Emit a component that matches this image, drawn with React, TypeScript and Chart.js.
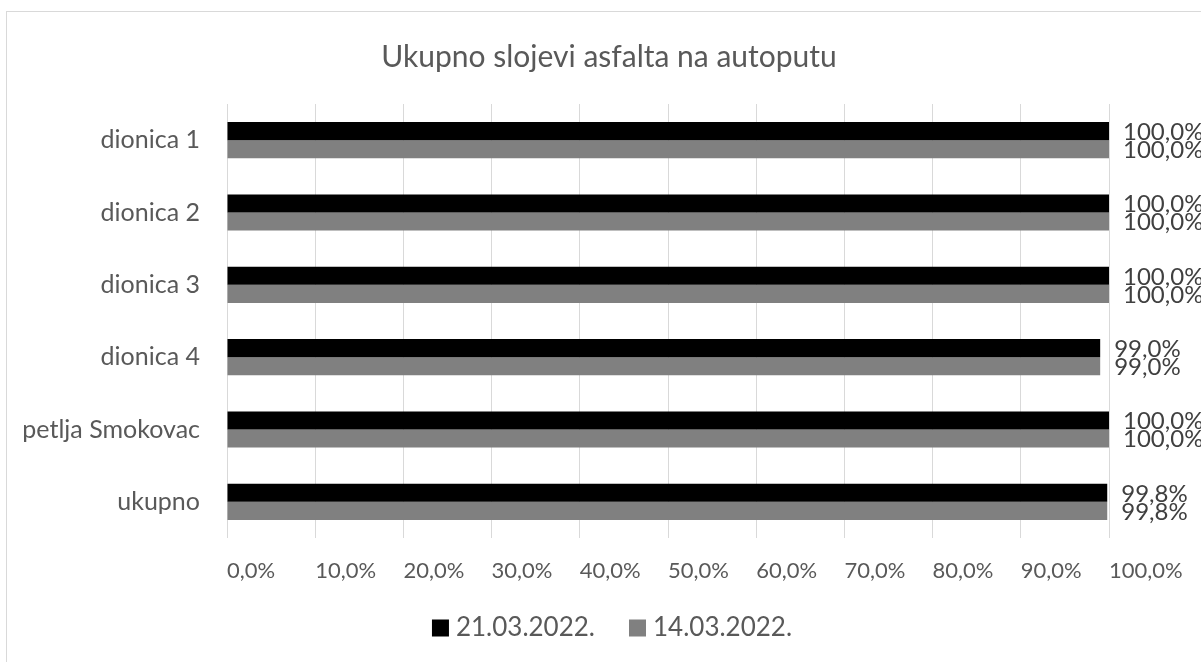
import React, { useEffect, useRef } from "react";
import { Chart, registerables } from "chart.js";

Chart.register(...registerables);

const categories = ["dionica 1", "dionica 2", "dionica 3", "dionica 4", "petlja Smokovac", "ukupno"];
const seriesNames = ["21.03.2022.", "14.03.2022."];
const series21 = [1, 1, 1, 0.99, 1, 0.998];
const series14 = [1, 1, 1, 0.99, 1, 0.998];
const seriesColors = ["#000000", "#808080"];
const titleText = "Ukupno slojevi asfalta na autoputu";
const FONT = "Lato, 'Open Sans', sans-serif";

const fmt = (v: number) => (v * 100).toFixed(1).replace(".", ",") + "%";

const overlayPlugin = {
  id: "overlay",
  afterDatasetsDraw(chart: any) {
    const ctx = chart.ctx;
    ctx.save();
    ctx.fillStyle = "#404040";
    ctx.font = `24px ${FONT}`;
    ctx.textAlign = "left";
    ctx.textBaseline = "middle";
    chart.data.datasets.forEach((ds: any, di: number) => {
      const meta = chart.getDatasetMeta(di);
      meta.data.forEach((el: any, i: number) => {
        ctx.fillText(fmt(ds.data[i]), el.x + 14, el.y + 1);
      });
    });
    ctx.restore();
  },
  afterDraw(chart: any) {
    const ctx = chart.ctx;
    ctx.save();
    // title
    ctx.fillStyle = "#595959";
    ctx.font = `30px ${FONT}`;
    ctx.textAlign = "center";
    ctx.textBaseline = "middle";
    ctx.fillText(titleText, 609, 57);
    // legend
    ctx.font = `26px ${FONT}`;
    ctx.textAlign = "left";
    const box = 17;
    const gapBox = 7;
    const gapItem = 34;
    const widths = seriesNames.map((n) => ctx.measureText(n).width);
    const total = widths.reduce((a, w) => a + box + gapBox + w, 0) + gapItem * (seriesNames.length - 1);
    let x = 612 - total / 2;
    const y = 628;
    seriesNames.forEach((n, i) => {
      ctx.fillStyle = seriesColors[i];
      ctx.fillRect(x, y - box / 2, box, box);
      x += box + gapBox;
      ctx.fillStyle = "#595959";
      ctx.fillText(n, x, y);
      x += widths[i] + gapItem;
    });
    ctx.restore();
  },
};

export default function App() {
  const ref = useRef<HTMLCanvasElement>(null);
  useEffect(() => {
    if (!ref.current) return;
    const chart = new Chart(ref.current, {
      type: "bar",
      data: {
        labels: categories,
        datasets: [
          { label: seriesNames[0], data: series21, backgroundColor: seriesColors[0], categoryPercentage: 0.5, barPercentage: 1 },
          { label: seriesNames[1], data: series14, backgroundColor: seriesColors[1], categoryPercentage: 0.5, barPercentage: 1 },
        ],
      },
      options: {
        indexAxis: "y",
        animation: false,
        responsive: false,
        maintainAspectRatio: false,
        layout: { padding: { top: 104, right: 92, left: 0, bottom: 0 } },
        plugins: {
          legend: { display: false },
          title: { display: false },
          tooltip: { enabled: false },
        },
        scales: {
          x: {
            min: 0,
            max: 1,
            border: { display: false },
            grid: { color: "#d9d9d9", lineWidth: 1, drawTicks: false },
            ticks: {
              stepSize: 0.1,
              padding: 20,
              align: "start",
              color: "#595959",
              font: { family: FONT, size: 22 },
              callback: (v: any) => fmt(Number(v)),
            },
            afterFit: (s: any) => {
              s.height = 124;
              s.paddingLeft = 0;
              s.paddingRight = 0;
            },
          },
          y: {
            border: { display: false },
            grid: { display: false, drawTicks: false },
            ticks: {
              padding: 27,
              color: "#595959",
              font: { family: FONT, size: 25 },
            },
            afterFit: (s: any) => {
              s.width = 227;
              s.paddingTop = 0;
              s.paddingBottom = 0;
            },
          },
        },
      },
      plugins: [overlayPlugin],
    });
    return () => chart.destroy();
  }, []);
  return (
    <div style={{ position: "fixed", left: 0, top: 0, width: 1201, height: 662, background: "#fff", overflow: "hidden" }}>
      <div style={{ position: "absolute", left: 6, top: 11, width: 1220, height: 700, border: "1px solid #d9d9d9" }} />
      <canvas ref={ref} width={1201} height={662} style={{ position: "absolute", left: 0, top: 0 }} />
    </div>
  );
}
